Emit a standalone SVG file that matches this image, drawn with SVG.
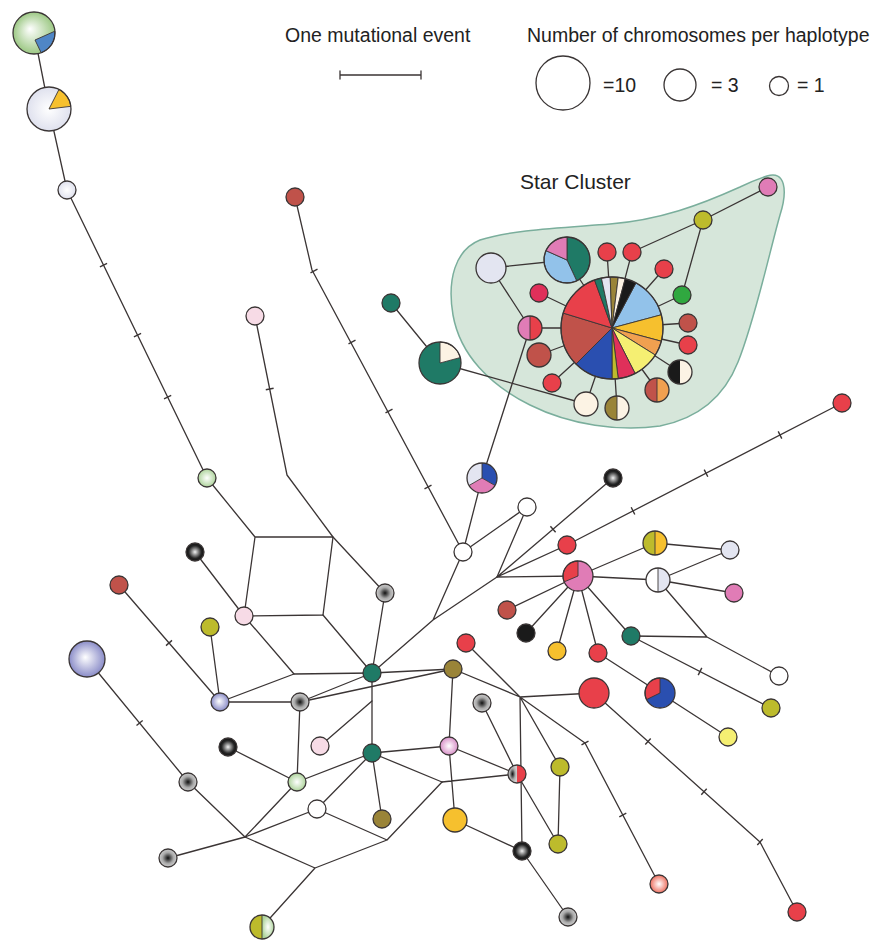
<svg xmlns="http://www.w3.org/2000/svg" width="878" height="941" viewBox="0 0 878 941">
<defs>
<style>
.ln{stroke:#3b3535;stroke-width:1.3;fill:none;stroke-linecap:round;stroke-linejoin:round}
.tk{stroke:#3b3535;stroke-width:1.4;fill:none}
.nd{stroke:#3a3535;stroke-width:1.3}
.ol{fill:none;stroke:#3a3535;stroke-width:1.3}
.sl{stroke:#3a3535;stroke-width:0.9}
.tx{font-family:"Liberation Sans",Arial,sans-serif;fill:#222}
.red{fill:#e8404a}.dred{fill:#c0524a}.teal{fill:#1f7a66}.olv{fill:#bdbb2c}.obr{fill:#9a8438}
.pnk{fill:#e07cb6}.lpk{fill:#f7dbe6}.lav{fill:#e3e5f1}.crm{fill:#fcf3e4}.yor{fill:#f6c02e}
.lyl{fill:#f5ef72}.org{fill:#f0a050}.lbl{fill:#92c2ea}.blu{fill:#2a4fb0}.crim{fill:#e0305a}
.blk{fill:#1a1a1a}.grn{fill:#30a840}.wht{fill:#ffffff}
</style>
<radialGradient id="gGrey" cx="0.5" cy="0.5" r="0.5"><stop offset="0" stop-color="#111"/><stop offset="0.3" stop-color="#5a5a5a"/><stop offset="0.6" stop-color="#a8a8a8"/><stop offset="1" stop-color="#cfcfcf"/></radialGradient>
<radialGradient id="gBlack" cx="0.5" cy="0.5" r="0.5"><stop offset="0" stop-color="#f2f2f2"/><stop offset="0.35" stop-color="#8a8a8a"/><stop offset="0.7" stop-color="#262626"/><stop offset="1" stop-color="#111"/></radialGradient>
<radialGradient id="gLav" cx="0.5" cy="0.5" r="0.5" fx="0.45" fy="0.45"><stop offset="0" stop-color="#fff"/><stop offset="1" stop-color="#8a8cc8"/></radialGradient>
<radialGradient id="gLG" cx="0.5" cy="0.5" r="0.5"><stop offset="0" stop-color="#fff"/><stop offset="1" stop-color="#aed49c"/></radialGradient>
<radialGradient id="gMv" cx="0.5" cy="0.5" r="0.5"><stop offset="0" stop-color="#fff"/><stop offset="1" stop-color="#d890c8"/></radialGradient>
<radialGradient id="gSal" cx="0.5" cy="0.5" r="0.5"><stop offset="0" stop-color="#fff"/><stop offset="1" stop-color="#ee7060"/></radialGradient>
<radialGradient id="gTopG" cx="0.5" cy="0.5" r="0.5" fx="0.4" fy="0.4"><stop offset="0" stop-color="#fff"/><stop offset="1" stop-color="#9cc884"/></radialGradient>
<radialGradient id="gWL" cx="0.5" cy="0.5" r="0.5"><stop offset="0" stop-color="#fff"/><stop offset="1" stop-color="#dfe1ee"/></radialGradient>
</defs>
<rect width="878" height="941" fill="#ffffff"/>

<!-- Legend -->
<g id="legend">
<text class="tx" x="285" y="42" font-size="19.5">One mutational event</text>
<text class="tx" x="527" y="42" font-size="19.5">Number of chromosomes per haplotype</text>
<path class="ln" d="M340,75 H421 M340,71 V79 M421,71 V79"/>
<circle class="ol" cx="563" cy="83" r="27"/>
<text class="tx" x="603" y="92" font-size="19.5">=10</text>
<circle class="ol" cx="680" cy="85" r="16"/>
<text class="tx" x="711" y="92" font-size="19.5">= 3</text>
<circle class="ol" cx="779" cy="86" r="9.5"/>
<text class="tx" x="797" y="92" font-size="19.5">= 1</text>
</g>

<!-- Star cluster hull -->
<g id="star-cluster-hull">
<path d="M767,176 C785,170 788,190 780,215 C770,250 755,320 738,362 C725,395 700,418 660,426 C620,432 570,425 530,405 C490,385 460,355 453,315 C447,280 455,250 480,240 C510,230 560,228 610,224 C660,220 700,205 740,187 C750,182 758,179 767,176 Z" fill="#d6e6da" stroke="#7aae9c" stroke-width="1.5"/>
<text class="tx" x="520" y="189" font-size="21">Star Cluster</text>
</g>

<!-- Connectors -->
<g id="connectors">
<path class="ln" d="M34,33 L49,109 L67,190 L207,478 L255,537 L333,537 L323,615 L244,616 L255,537"/>
<path class="ln" d="M255,316 L287,475 L333,537 L385,593 L372,673"/>
<path class="ln" d="M323,615 L372,673"/>
<path class="ln" d="M195,552 L244,616 L294,674 L372,673"/>
<path class="ln" d="M220,702 L294,674 M220,702 L119,585 M220,702 L210,627 M220,702 L300,702"/>
<path class="ln" d="M87,659 L188,782 L245,837"/>
<path class="ln" d="M300,702 L372,673 M300,702 L453,669 M300,702 L297,782"/>
<path class="ln" d="M228,747 L297,782 L372,753 M297,782 L245,837"/>
<path class="ln" d="M320,746 L372,701"/>
<path class="ln" d="M372,673 L372,753 M372,673 L453,669 M372,673 L433,620 L497,577 M433,620 L463,552"/>
<path class="ln" d="M372,753 L449,746 M372,753 L317,809 M372,753 L382,819 M372,753 L442,782"/>
<path class="ln" d="M317,809 L387,840 L442,782 M387,840 L315,868 L245,837 M315,868 L262,927"/>
<path class="ln" d="M245,837 L168,858 M245,837 L317,809"/>
<path class="ln" d="M442,782 L517,774 M453,669 L449,746 L455,820 L522,851 M449,746 L517,774"/>
<path class="ln" d="M453,669 L520,697 M466,643 L520,697 L594,693 M520,697 L522,851 M520,697 L560,767 M520,697 L585,743 L659,884"/>
<path class="ln" d="M482,703 L517,774 L558,844 L560,767 M522,851 L568,917"/>
<path class="ln" d="M594,693 L760,842 L797,912"/>
<path class="ln" d="M463,552 L482,478 L530,328 M463,552 L312,270 L295,197 M463,552 L527,507 L497,577"/>
<path class="ln" d="M497,577 L613,478 M497,577 L567,545 L842,403 M497,577 L578,576"/>
<path class="ln" d="M578,576 L507,610 M578,576 L526,633 M578,576 L557,651 M578,576 L598,653 M578,576 L631,636 M578,576 L655,543 M578,576 L658,580"/>
<path class="ln" d="M655,543 L730,550 L658,580 L734,593 M658,580 L707,637 L779,676 M631,636 L707,637 M631,636 L771,708"/>
<path class="ln" d="M598,653 L660,693 L728,737"/>
<path class="ln" d="M391,303 L440,363 L586,404"/>
<path class="ln" d="M491,268 L567,260 M491,268 L530,328 L612,328 M567,260 L612,328"/>
<path class="ln" d="M607,252 L612,328 M632,252 L612,328 M664,269 L612,328 M632,252 L703,220 L768,187 M703,220 L682,295 L612,328"/>
<path class="ln" d="M688,323 L612,328 M688,345 L612,328 M680,372 L612,328 M657,390 L612,328 M617,408 L612,328 M586,404 L612,328 M552,383 L612,328 M539,355 L612,328 M539,293 L612,328"/>
</g>

<!-- Mutation ticks -->
<g id="ticks">
<path class="tk" d="M107.1,263.3 L99.9,266.8 M141.1,333.3 L133.9,336.8 M171.2,395.3 L164.0,398.8"/>
<path class="tk" d="M317.5,269.1 L310.5,272.9 M355.5,340.1 L348.5,343.9 M392.5,409.1 L385.5,412.9 M431.5,485.1 L424.5,488.9"/>
<path class="tk" d="M273.6,388.2 L265.8,389.8"/>
<path class="tk" d="M142.7,720.5 L136.5,725.5"/>
<path class="tk" d="M172,640.4 L166,645.6"/>
<path class="tk" d="M555.6,532.2 L550.4,526.2"/>
<path class="tk" d="M634.8,514.5 L631.2,507.3 M707.8,476.8 L704.2,469.6 M781.8,438.6 L778.2,431.4"/>
<path class="tk" d="M701.8,667.9 L698.2,675.1"/>
<path class="tk" d="M588.5,741.1 L581.5,744.9 M626.3,813.1 L619.3,816.9"/>
<path class="tk" d="M650.7,738.5 L645.3,744.5 M706.7,788.7 L701.3,794.7 M762.7,839 L757.3,845"/>
</g>

<!-- Nodes: top chain -->
<g id="n-A"><circle cx="34" cy="33" r="21" fill="url(#gTopG)"/><path d="M35,40 L54.92,31.17 A21,21 0 0 1 41.18,52.73 Z" fill="#4f86c6" class="sl"/><circle class="ol" cx="34" cy="33" r="21"/></g>
<g id="n-B"><circle cx="49" cy="109" r="22" fill="url(#gWL)"/><path d="M49,109 L58.99,89.40 A22,22 0 0 1 70.84,106.32 Z" class="yor sl"/><circle class="ol" cx="49" cy="109" r="22"/></g>
<g id="n-C"><circle class="nd" cx="67" cy="190" r="9" fill="url(#gWL)"/></g>
<g id="n-G1"><circle class="nd" cx="207" cy="478" r="9" fill="url(#gLG)"/></g>
<g id="n-redtop"><circle class="nd dred" cx="295" cy="197" r="9"/></g>
<g id="n-pinktop"><circle class="nd lpk" cx="255" cy="316" r="9"/></g>
<g id="n-tealsmall"><circle class="nd teal" cx="391" cy="303" r="9"/></g>
<g id="n-tealpie"><path d="M440,363 L460.28,357.56 A21,21 0 1 1 440,342 Z" class="teal"/><path d="M440,363 L440,342 A21,21 0 0 1 460.28,357.56 Z" class="crm sl"/><circle class="ol" cx="440" cy="363" r="21"/></g>

<!-- left nodes -->
<g id="n-black1"><circle class="nd" cx="195" cy="552" r="9" fill="url(#gBlack)"/></g>
<g id="n-pk"><circle class="nd lpk" cx="244" cy="616" r="9"/></g>
<g id="n-red1"><circle class="nd dred" cx="119" cy="585" r="9"/></g>
<g id="n-olive1"><circle class="nd olv" cx="210" cy="627" r="9"/></g>
<g id="n-lav"><circle class="nd" cx="220" cy="702" r="9" fill="url(#gLav)"/></g>
<g id="n-biglav"><circle class="nd" cx="87" cy="659" r="18" fill="url(#gLav)"/></g>
<g id="n-grey1"><circle class="nd" cx="385" cy="593" r="9" fill="url(#gGrey)"/></g>
<g id="n-grey2"><circle class="nd" cx="300" cy="702" r="9" fill="url(#gGrey)"/></g>
<g id="n-grey3"><circle class="nd" cx="188" cy="782" r="9" fill="url(#gGrey)"/></g>
<g id="n-grey4"><circle class="nd" cx="168" cy="858" r="9" fill="url(#gGrey)"/></g>
<g id="n-black2"><circle class="nd" cx="228" cy="747" r="9" fill="url(#gBlack)"/></g>
<g id="n-lpink"><circle class="nd lpk" cx="320" cy="746" r="9"/></g>
<g id="n-lg"><circle class="nd" cx="297" cy="782" r="9" fill="url(#gLG)"/></g>
<g id="n-w"><circle class="nd wht" cx="317" cy="809" r="9"/></g>
<g id="n-ow"><path d="M262,915 A12,12 0 0 0 262,939 Z" class="olv"/><path d="M262,915 A12,12 0 0 1 262,939 Z" fill="url(#gLG)"/><path class="sl" d="M262,915 V939"/><circle class="ol" cx="262" cy="927" r="12"/></g>

<!-- middle nodes -->
<g id="n-t1"><circle class="nd teal" cx="372" cy="673" r="9"/></g>
<g id="n-t2"><circle class="nd teal" cx="372" cy="753" r="9"/></g>
<g id="n-b1"><circle class="nd obr" cx="453" cy="669" r="9"/></g>
<g id="n-b2"><circle class="nd obr" cx="382" cy="819" r="9"/></g>
<g id="n-p2"><circle class="nd" cx="449" cy="746" r="9" fill="url(#gMv)"/></g>
<g id="n-r1"><circle class="nd red" cx="466" cy="643" r="9"/></g>
<g id="n-g3"><circle class="nd" cx="482" cy="703" r="9" fill="url(#gGrey)"/></g>
<g id="n-y"><circle class="nd yor" cx="455" cy="820" r="12"/></g>
<g id="n-h"><path d="M517,765 A9,9 0 0 0 517,783 Z" fill="url(#gGrey)"/><path d="M517,765 A9,9 0 0 1 517,783 Z" class="red"/><circle class="ol" cx="517" cy="774" r="9"/></g>
<g id="n-k"><circle class="nd" cx="522" cy="851" r="9" fill="url(#gBlack)"/></g>
<g id="n-g4"><circle class="nd" cx="568" cy="917" r="9" fill="url(#gGrey)"/></g>
<g id="n-o1"><circle class="nd olv" cx="560" cy="767" r="9"/></g>
<g id="n-o2"><circle class="nd olv" cx="558" cy="844" r="9"/></g>
<g id="n-bigred"><circle class="nd red" cx="594" cy="693" r="15"/></g>
<g id="n-salmon"><circle class="nd" cx="659" cy="884" r="9" fill="url(#gSal)"/></g>
<g id="n-redbr"><circle class="nd red" cx="797" cy="912" r="9"/></g>

<!-- center-right nodes -->
<g id="n-white1"><circle class="nd wht" cx="463" cy="552" r="9"/></g>
<g id="n-white2"><circle class="nd wht" cx="527" cy="507" r="9"/></g>
<g id="n-tri"><path d="M482,478 L482,463 A15,15 0 0 1 494.99,485.5 Z" class="blu"/><path d="M482,478 L494.99,485.5 A15,15 0 0 1 469.01,485.5 Z" class="pnk"/><path d="M482,478 L469.01,485.5 A15,15 0 0 1 482,463 Z" class="lav"/><path class="sl" d="M482,478 L482,463 M482,478 L494.99,485.5 M482,478 L469.01,485.5"/><circle class="ol" cx="482" cy="478" r="15"/></g>
<g id="n-black3"><circle class="nd" cx="613" cy="478" r="9" fill="url(#gBlack)"/></g>
<g id="n-red2"><circle class="nd red" cx="567" cy="545" r="9"/></g>
<g id="n-farred"><circle class="nd red" cx="842" cy="403" r="9"/></g>
<g id="n-pinkpie"><circle cx="578" cy="576" r="15" class="pnk"/><path d="M578,576 L564.19,581.86 A15,15 0 0 1 578,561 Z" class="red sl"/><circle class="ol" cx="578" cy="576" r="15"/></g>
<g id="n-dr"><circle class="nd dred" cx="507" cy="610" r="9"/></g>
<g id="n-k4"><circle class="nd blk" cx="526" cy="633" r="9"/></g>
<g id="n-yel"><circle class="nd yor" cx="557" cy="651" r="9"/></g>
<g id="n-red3"><circle class="nd red" cx="598" cy="653" r="9"/></g>
<g id="n-t3"><circle class="nd teal" cx="631" cy="636" r="9"/></g>
<g id="n-oy"><path d="M655,531 A12,12 0 0 0 655,555 Z" class="olv"/><path d="M655,531 A12,12 0 0 1 655,555 Z" class="yor"/><path class="sl" d="M655,531 V555"/><circle class="ol" cx="655" cy="543" r="12"/></g>
<g id="n-wl"><path d="M658,568 A12,12 0 0 0 658,592 Z" class="wht"/><path d="M658,568 A12,12 0 0 1 658,592 Z" class="lav"/><path class="sl" d="M658,568 V592"/><circle class="ol" cx="658" cy="580" r="12"/></g>
<g id="n-lav2"><circle class="nd lav" cx="730" cy="550" r="9"/></g>
<g id="n-pink2"><circle class="nd pnk" cx="734" cy="593" r="9"/></g>
<g id="n-white3"><circle class="nd wht" cx="779" cy="676" r="9"/></g>
<g id="n-olive3"><circle class="nd olv" cx="771" cy="708" r="9"/></g>
<g id="n-rb"><circle cx="660" cy="693" r="15" class="blu"/><path d="M660,693 L646.52,699.58 A15,15 0 0 1 660,678 Z" class="red sl"/><circle class="ol" cx="660" cy="693" r="15"/></g>
<g id="n-ly"><circle class="nd lyl" cx="728" cy="737" r="9"/></g>

<!-- star cluster nodes -->
<g id="n-c0">
<path d="M612,328 L635.94,282.97 A51,51 0 0 1 661.26,314.80 Z" class="lbl sl"/>
<path d="M612,328 L661.26,314.80 A51,51 0 0 1 661.26,341.20 Z" class="yor sl"/>
<path d="M612,328 L661.26,341.20 A51,51 0 0 1 655.25,355.03 Z" class="org sl"/>
<path d="M612,328 L655.25,355.03 A51,51 0 0 1 635.15,373.44 Z" class="lyl sl"/>
<path d="M612,328 L635.15,373.44 A51,51 0 0 1 618.22,378.62 Z" class="crim sl"/>
<path d="M612,328 L618.22,378.62 A51,51 0 0 1 612,379 Z" class="olv sl"/>
<path d="M612,328 L612,379 A51,51 0 0 1 575.94,364.06 Z" class="blu sl"/>
<path d="M612,328 L575.94,364.06 A51,51 0 0 1 563.23,313.09 Z" class="dred sl"/>
<path d="M612,328 L563.23,313.09 A51,51 0 0 1 594.56,280.08 Z" class="red sl"/>
<path d="M612,328 L594.56,280.08 A51,51 0 0 1 601.40,278.12 Z" class="teal sl"/>
<path d="M612,328 L601.40,278.12 A51,51 0 0 1 610.22,277.03 Z" class="lav sl"/>
<path d="M612,328 L610.22,277.03 A51,51 0 0 1 618.22,277.38 Z" class="obr sl"/>
<path d="M612,328 L618.22,277.38 A51,51 0 0 1 625.20,278.74 Z" class="crm sl"/>
<path d="M612,328 L625.20,278.74 A51,51 0 0 1 635.94,282.97 Z" class="blk sl"/>
<circle class="ol" cx="612" cy="328" r="51"/>
</g>
<g id="n-l1"><circle class="nd lav" cx="491" cy="268" r="15"/></g>
<g id="n-p3"><path d="M567,260 L567,237 A23,23 0 0 1 576.72,280.84 Z" class="teal sl"/><path d="M567,260 L576.72,280.84 A23,23 0 0 1 545.99,250.65 Z" class="lbl sl"/><path d="M567,260 L545.99,250.65 A23,23 0 0 1 567,237 Z" class="pnk sl"/><circle class="ol" cx="567" cy="260" r="23"/></g>
<g id="n-s-red1"><circle class="nd red" cx="607" cy="252" r="9"/></g>
<g id="n-s-red2"><circle class="nd red" cx="632" cy="252" r="9"/></g>
<g id="n-s-red3"><circle class="nd red" cx="664" cy="269" r="9"/></g>
<g id="n-s-olive"><circle class="nd olv" cx="703" cy="220" r="9"/></g>
<g id="n-s-pink"><circle class="nd pnk" cx="768" cy="187" r="9"/></g>
<g id="n-s-green"><circle class="nd grn" cx="682" cy="295" r="9"/></g>
<g id="n-s-dred"><circle class="nd dred" cx="688" cy="323" r="9"/></g>
<g id="n-s-red4"><circle class="nd red" cx="688" cy="345" r="9"/></g>
<g id="n-s-bc"><path d="M680,360 A12,12 0 0 0 680,384 Z" class="blk"/><path d="M680,360 A12,12 0 0 1 680,384 Z" class="crm"/><circle class="ol" cx="680" cy="372" r="12"/></g>
<g id="n-s-do"><path d="M657,378 A12,12 0 0 0 657,402 Z" class="dred"/><path d="M657,378 A12,12 0 0 1 657,402 Z" class="org"/><path class="sl" d="M657,378 V402"/><circle class="ol" cx="657" cy="390" r="12"/></g>
<g id="n-s-oc"><path d="M617,396 A12,12 0 0 0 617,420 Z" class="obr"/><path d="M617,396 A12,12 0 0 1 617,420 Z" class="crm"/><path class="sl" d="M617,396 V420"/><circle class="ol" cx="617" cy="408" r="12"/></g>
<g id="n-s-cream"><circle class="nd crm" cx="586" cy="404" r="12"/></g>
<g id="n-s-red5"><circle class="nd red" cx="552" cy="383" r="9"/></g>
<g id="n-s-dred2"><circle class="nd dred" cx="539" cy="355" r="12"/></g>
<g id="n-s-pr"><path d="M530,316 A12,12 0 0 0 530,340 Z" class="pnk"/><path d="M530,316 A12,12 0 0 1 530,340 Z" class="red"/><path class="sl" d="M530,316 V340"/><circle class="ol" cx="530" cy="328" r="12"/></g>
<g id="n-s-red6"><circle class="nd crim" cx="539" cy="293" r="9"/></g>
</svg>
